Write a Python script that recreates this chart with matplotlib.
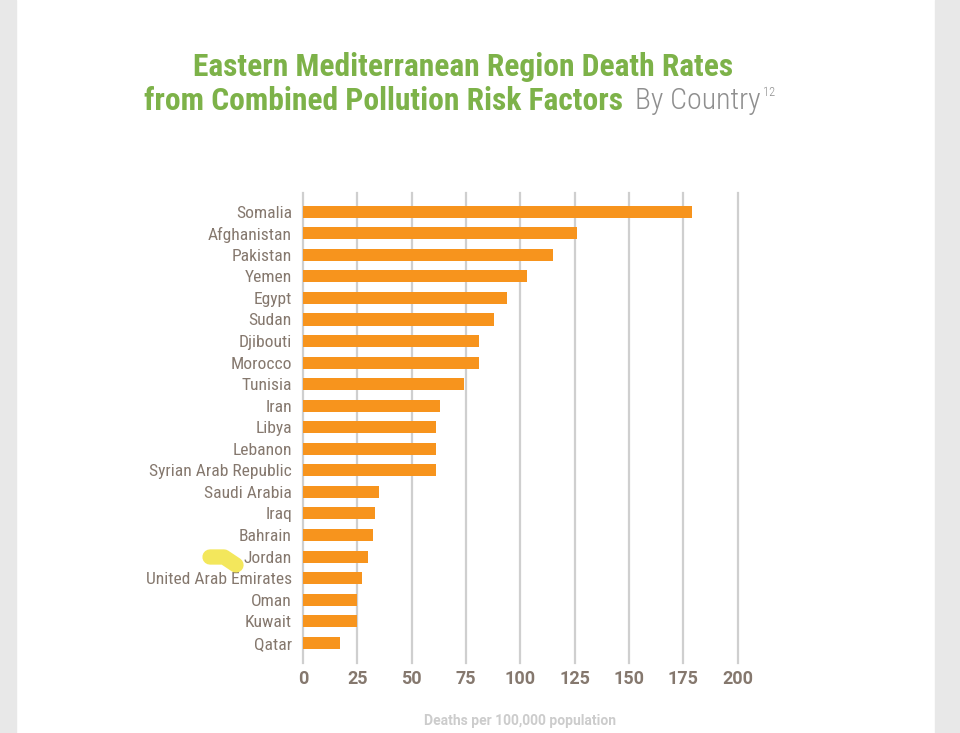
import matplotlib
matplotlib.use("Agg")
from matplotlib import pyplot as plt
from matplotlib import font_manager as fm
from matplotlib.lines import Line2D
from matplotlib.patches import Rectangle

countries = ["Somalia", "Afghanistan", "Pakistan", "Yemen", "Egypt", "Sudan",
             "Djibouti", "Morocco", "Tunisia", "Iran", "Libya", "Lebanon",
             "Syrian Arab Republic", "Saudi Arabia", "Iraq", "Bahrain", "Jordan",
             "United Arab Emirates", "Oman", "Kuwait", "Qatar"]
death_rates = [179, 126, 115, 103, 94, 88, 81, 81, 74, 63, 61, 61,
               61, 35, 33, 32, 30, 27, 25, 25, 17]
x_ticks = [0, 25, 50, 75, 100, 125, 150, 175, 200]

GREEN = "#7db249"
ORANGE = "#f7941d"
LABEL = "#85786e"
GRID = "#cfcfcf"


def pick_font(names):
    avail = {f.name for f in fm.fontManager.ttflist}
    for n in names:
        if n in avail:
            return n
    return "DejaVu Sans"


narrow = pick_font(["Roboto Condensed", "Liberation Sans Narrow", "Roboto"])
is_narrow = narrow != "Roboto"
lab_size = 12.6 if is_narrow else 10.5
title_size = 22.7 if is_narrow else 18

fig = plt.figure(figsize=(9.6, 7.33), dpi=100)
fig.patch.set_facecolor("white")
# gray page margins of the screenshot
fig.add_artist(Rectangle((0, 0), 16 / 960, 1, transform=fig.transFigure,
                         color="#e8e8e8", zorder=0))
fig.add_artist(Rectangle((935 / 960, 0), 25 / 960, 1, transform=fig.transFigure,
                         color="#e8e8e8", zorder=0))

ax = fig.add_axes([303 / 960, 1 - 663 / 733, 434.5 / 960, 470 / 733])
ypos = list(range(len(countries)))
ax.barh(ypos, death_rates, height=0.56, color=ORANGE, zorder=3)
ax.set_ylim(len(countries) - 1 + 0.94, -0.87)
ax.set_xlim(0, 200)
for t in x_ticks:
    ax.axvline(t, color=GRID, lw=1.6, zorder=1, clip_on=False)
for s in ax.spines.values():
    s.set_visible(False)

ax.set_yticks(ypos)
ax.set_yticklabels(countries, fontfamily=narrow, fontsize=lab_size, color=LABEL)
ax.set_xticks(x_ticks)
ax.set_xticklabels([str(t) for t in x_ticks], fontfamily="Roboto",
                   fontsize=13, color=LABEL, fontweight="bold")
ax.tick_params(axis="both", length=0)
ax.tick_params(axis="y", pad=8)
ax.tick_params(axis="x", pad=5)
ax.set_xlabel("Deaths per 100,000 population", fontfamily="Roboto",
              fontsize=10, fontweight="bold", color="#cccccc", labelpad=19)

fig.text(463 / 960, 1 - 67 / 733, "Eastern Mediterranean Region Death Rates",
         ha="center", va="center", fontfamily=narrow, fontweight="bold",
         fontsize=title_size, color=GREEN)
fig.text(623 / 960, 1 - 101 / 733, "from Combined Pollution Risk Factors",
         ha="right", va="center", fontfamily=narrow, fontweight="bold",
         fontsize=title_size, color=GREEN)
fig.text(635 / 960, 1 - 101 / 733, "By Country", ha="left", va="center",
         fontfamily=narrow, fontweight="light", fontsize=21.5, color="#8f8f8f")
fig.text(763 / 960, 1 - 93 / 733, "12", ha="left", va="center",
         fontfamily=narrow, fontweight="light", fontsize=9, color="#8f8f8f")

# yellow highlighter mark next to Jordan
fig.add_artist(Line2D([210 / 960, 224 / 960, 236 / 960],
                      [1 - 557 / 733, 1 - 557 / 733, 1 - 565 / 733],
                      transform=fig.transFigure, color="#f2e33f", lw=11,
                      solid_capstyle="round", solid_joinstyle="round",
                      alpha=0.85, zorder=5))

fig.savefig("out.png", dpi=100)
